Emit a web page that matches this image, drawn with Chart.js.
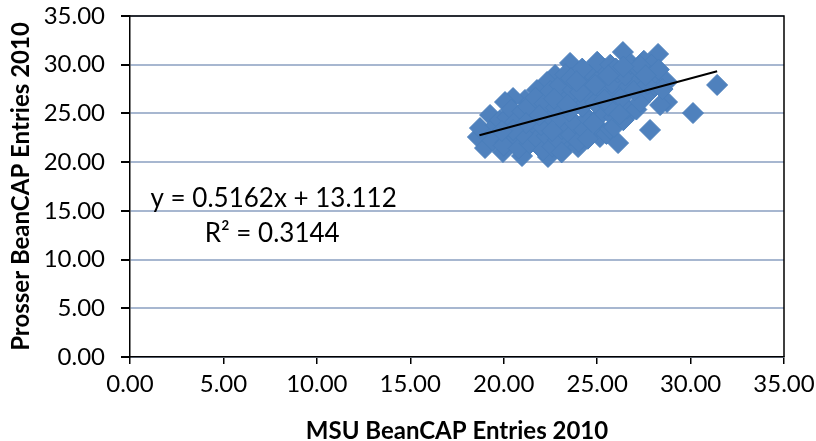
<!DOCTYPE html>
<html>
<head>
<meta charset="utf-8">
<script src="https://cdn.jsdelivr.net/npm/chart.js@4/dist/chart.umd.min.js"></script>
<style>
  html, body { margin: 0; padding: 0; background: #fff; }
  #wrap { width: 816px; height: 441px; position: relative; }
</style>
</head>
<body>
<div id="wrap"><canvas id="c" width="816" height="441"></canvas></div>
<script>
// ---- data ----
const msuX = [
  18.62,19.0,19.96,20.98,22.37,23.39,23.98,25.15,26.12,27.83,30.13,31.42,28.74,28.74,28.37,26.76,28.26,26.38,23.55,22.75,22.32,21.78,21.14,20.50,20.07,19.27,18.73,
  19.5,19.6,19.4,19.8,
  20.1,20.3,20.2,20.4,20.0,
  20.7,20.9,20.6,21.0,20.8,
  21.4,21.6,21.5,21.3,21.7,21.8,
  22.1,22.3,22.0,22.4,22.2,22.5,22.6,
  22.9,23.1,23.0,22.8,23.2,23.0,23.3,23.1,
  23.6,23.8,23.5,23.9,23.7,23.6,24.0,
  24.3,24.5,24.2,24.6,24.4,24.7,24.5,
  25.0,25.2,24.9,25.3,25.1,25.4,25.0,25.5,
  25.7,25.9,25.6,26.0,25.8,26.1,25.7,25.9,
  26.4,26.6,26.3,26.7,26.5,26.8,
  27.1,27.3,27.0,27.4,27.2,27.5,
  27.8,28.1,27.7,28.1,27.9,
  28.5,28.3,
  21.0,21.9,22.7,23.4,24.1,24.8,25.4,26.2,22.6,21.2,20.5,19.9,27.3,26.0,
  24.2,24.9,23.9,26.4,25.6,27.6
];
const prosserY = [
  22.58,21.45,21.04,20.63,20.53,21.76,21.55,22.58,21.96,23.30,25.04,27.92,28.23,26.17,25.86,25.04,31.10,31.30,30.18,28.94,28.23,27.40,26.38,26.58,26.17,24.84,23.50,
  22.9,23.8,22.2,24.3,
  22.0,23.1,24.6,25.4,21.7,
  22.5,23.6,24.1,25.2,21.4,
  21.9,23.0,24.4,25.7,26.6,22.4,
  21.2,22.7,23.8,24.9,26.0,27.3,21.6,
  22.3,23.4,24.6,25.6,26.7,27.9,29.0,21.0,
  22.8,24.0,25.2,26.3,27.4,28.6,22.1,
  23.3,24.5,25.7,26.9,28.0,29.1,22.4,
  23.7,24.9,26.1,27.3,28.5,29.6,30.3,22.9,
  23.4,24.6,25.8,27.0,28.1,29.2,30.0,23.6,
  24.3,25.5,26.6,27.8,28.9,30.1,
  25.4,26.2,27.4,28.6,29.6,30.4,
  27.2,27.8,28.0,29.2,30.0,
  27.5,29.5,
  22.9,24.8,26.5,25.9,27.2,24.0,26.4,24.9,23.2,24.0,23.3,23.2,29.9,29.6,
  29.6,27.9,28.3,29.8,28.9,28.9
];
const trendX = [18.7, 31.42];
const trendY = [22.76, 29.33];
const equationText = "y = 0.5162x + 13.112";
const r2Text = "R\u00B2 = 0.3144";
const xTitle = "MSU BeanCAP Entries 2010";
const yTitle = "Prosser BeanCAP Entries 2010";
const axisMin = 0, axisMax = 35, axisStep = 5;

const points = msuX.map((x, i) => ({x: x, y: prosserY[i]}));
const trend = trendX.map((x, i) => ({x: x, y: trendY[i]}));

const FONT = "Lato, 'Open Sans', sans-serif";

const framePlugin = {
  id: 'frame',
  afterDatasetsDraw(chart) {
    const {ctx, chartArea: a, scales} = chart;
    ctx.save();
    ctx.strokeStyle = '#000';
    ctx.lineWidth = 1.5;
    ctx.beginPath();
    ctx.moveTo(a.left, a.top);
    ctx.lineTo(a.right, a.top);
    ctx.lineTo(a.right, a.bottom);
    ctx.stroke();
    // equation labels
    ctx.fillStyle = '#000';
    ctx.font = "26px " + FONT;
    ctx.textBaseline = 'middle';
    ctx.textAlign = 'left';
    ctx.fillText(equationText, scales.x.getPixelForValue(1.1), scales.y.getPixelForValue(16.3));
    ctx.fillText(r2Text, scales.x.getPixelForValue(4.0), scales.y.getPixelForValue(12.7));
    ctx.restore();
  }
};

new Chart(document.getElementById('c'), {
  type: 'scatter',
  data: {
    datasets: [
      {
        type: 'line',
        data: trend,
        borderColor: '#000',
        borderWidth: 2,
        pointRadius: 0,
        fill: false,
        order: 0
      },
      {
        data: points,
        pointStyle: 'rectRot',
        pointRadius: 10.5,
        pointHoverRadius: 10.5,
        backgroundColor: '#4F81BD',
        borderColor: '#4A7EBB',
        borderWidth: 1,
        order: 1
      }
    ]
  },
  options: {
    responsive: false,
    animation: false,
    events: [],
    layout: { padding: { left: 0, right: 32, top: 16, bottom: 0 } },
    plugins: { legend: { display: false }, tooltip: { enabled: false } },
    scales: {
      x: {
        type: 'linear',
        min: axisMin, max: axisMax,
        afterFit(s) { s.height = 84; s.paddingLeft = 0; s.paddingRight = 0; },
        ticks: {
          stepSize: axisStep,
          color: '#000',
          font: { family: FONT, size: 24 },
          padding: 6,
          maxRotation: 0,
          callback: v => Number(v).toFixed(2)
        },
        grid: { drawOnChartArea: false, tickColor: '#000', tickLength: 7, lineWidth: 1.5 },
        border: { color: '#000', width: 1.5 },
        title: {
          display: true, text: xTitle, color: '#000',
          font: { family: FONT, size: 24, weight: 'bold', lineHeight: 1.0 },
          padding: { top: 0, bottom: -2 }
        }
      },
      y: {
        type: 'linear',
        min: axisMin, max: axisMax,
        afterFit(s) { s.width = 130; s.paddingTop = 0; s.paddingBottom = 0; },
        ticks: {
          stepSize: axisStep,
          color: '#000',
          font: { family: FONT, size: 24 },
          padding: 16,
          callback: v => Number(v).toFixed(2)
        },
        grid: { color: '#A7B7D0', lineWidth: 2, tickColor: '#000', tickLength: 9 },
        border: { color: '#000', width: 1.5 },
        title: {
          display: true, text: yTitle, color: '#000',
          font: { family: FONT, size: 24, weight: 'bold', lineHeight: 1.0 },
          padding: { top: 9, bottom: 0 }
        }
      }
    }
  },
  plugins: [framePlugin]
});
</script>
</body>
</html>
